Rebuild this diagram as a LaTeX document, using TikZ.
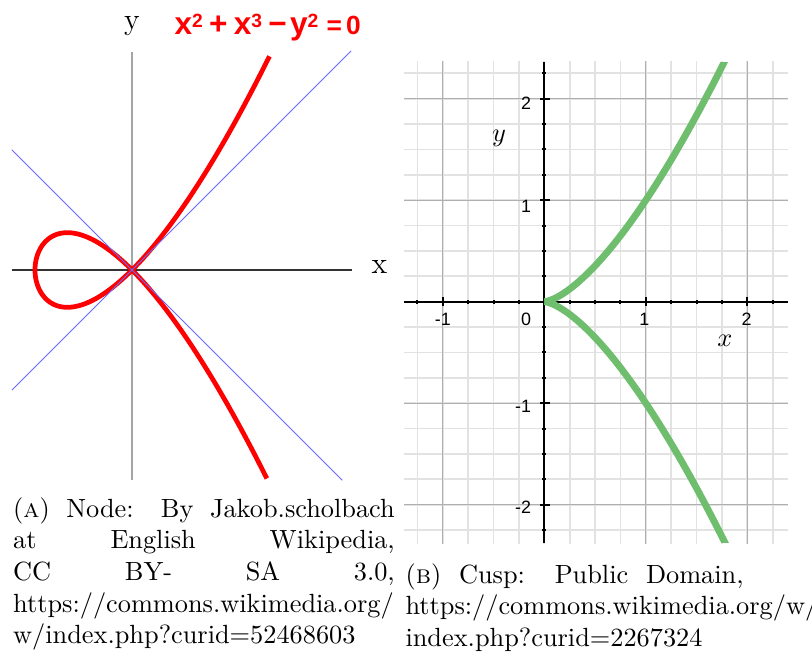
\documentclass[tikz,border=0pt]{standalone}
\usepackage{fontspec}
\newfontfamily\plotfont{Liberation Sans}
\definecolor{curvered}{RGB}{255,0,0}
\definecolor{tangentblue}{RGB}{105,105,255}
\definecolor{cuspgreen}{RGB}{110,190,110}
\definecolor{minorgray}{RGB}{226,226,226}
\definecolor{majorgray}{RGB}{175,175,175}
\definecolor{yaxisgray}{RGB}{165,165,165}
\newcommand{\eqsup}[1]{\raisebox{2.9pt}{\fontsize{7.3}{7}\selectfont #1}}
\begin{document}
\begin{tikzpicture}[x=0.38pt,y=-0.38pt,
    labelfont/.style={inner sep=0pt,font=\fontsize{11.5}{13}\selectfont},
    ticklabel/.style={inner sep=0pt,font=\plotfont\fontsize{6.8}{7}\selectfont},
    axisname/.style={inner sep=0pt,font=\fontsize{10.3}{12}\selectfont},
    captiontext/.style={inner sep=0pt,anchor=base west,align=justify,
      font=\fontsize{10}{12}\selectfont,
      execute at begin node={\tolerance=10000\hbadness=10000}}]
  \useasboundingbox (0,0) rectangle (812,654);
  \fill[white] (0,0) rectangle (812,654);
  \clip (0,0) rectangle (812,654);

  \begin{scope}[shift={(132,270)},xscale=97,yscale=-97]
    \coordinate (NL) at (-1.237,0);
    \coordinate (NR) at (2.275,0);
    \coordinate (NT) at (0,2.247);
    \coordinate (NB) at (0,-2.165);
    \coordinate (TA) at (-1.24,-1.24);
    \coordinate (TB) at (2.26,2.26);
    \coordinate (TC) at (-1.24,1.24);
    \coordinate (TD) at (2.17,-2.17);
    \draw[yaxisgray,line width=0.8pt] (NB) -- (NT);
    \draw[black!80,line width=0.4pt] (NL) -- (NR);
    \draw[curvered,line width=1.8pt,line join=round] plot[domain=-1.546:1.556,samples=160,smooth] ({\x*\x-1},{\x*(\x*\x-1)});
    \draw[tangentblue,line width=0.35pt] (TA) -- (TB);
    \draw[tangentblue,line width=0.35pt] (TC) -- (TD);
  \end{scope}
  \node[labelfont,anchor=base] (ylabel) at (132,29.5) {y};
  \node[labelfont,anchor=base] (xlabel) at (379.5,274) {x};
  \node[inner sep=0pt,anchor=base west,text=curvered,font=\plotfont\bfseries\fontsize{12}{14}\selectfont] (equation) at (174,35)
    {x\eqsup{2}\hspace{2.4pt}+\hspace{2.4pt}x\eqsup{3}\hspace{2.4pt}−\hspace{1.2pt}y\eqsup{2}\hspace{3.2pt}{\fontsize{10}{10}\selectfont=\hspace{1.6pt}0}};

  \begin{scope}[shift={(544.3,301.7)},xscale=101.5,yscale=-101.5]
    \coordinate (GL) at (-1.382,-2.387);
    \coordinate (GR) at (2.401,2.371);
    \coordinate (AL) at (-1.382,0);
    \coordinate (AR) at (2.401,0);
    \coordinate (AT) at (0,2.371);
    \coordinate (AB) at (0,-2.387);
    \foreach \g in {-1.25,-1,...,2.26}
      \draw[minorgray,line width=0.65pt] (\g,-2.387) -- (\g,2.371);
    \foreach \g in {-2.25,-2,...,2.26}
      \draw[minorgray,line width=0.65pt] (-1.382,\g) -- (2.401,\g);
    \foreach \g in {-1,1,2}
      \draw[majorgray,line width=0.45pt] (\g,-2.387) -- (\g,2.371);
    \foreach \g in {-2,-1,1,2}
      \draw[majorgray,line width=0.45pt] (-1.382,\g) -- (2.401,\g);
    \draw[line width=0.75pt] (AL) -- (AR);
    \draw[line width=0.75pt] (AB) -- (AT);
    \foreach \t in {-1.25,-1,...,2.26}
      \draw[line width=0.75pt] (\t,-0.02) -- (\t,0.02);
    \foreach \t in {-2.25,-2,...,2.26}
      \draw[line width=0.75pt] (-0.02,\t) -- (0.02,\t);
    \foreach \t in {-1,1,2}
      \draw[line width=0.75pt] (\t,-0.042) -- (\t,0.042);
    \foreach \t in {-2,-1,1,2}
      \draw[line width=0.75pt] (-0.042,\t) -- (0.055,\t);
    \begin{scope}
      \clip (GL) rectangle (GR);
      \draw[cuspgreen,line width=2.6pt] plot[domain=0:1.35,samples=60,smooth] ({\x*\x},{\x*\x*\x});
      \draw[cuspgreen,line width=2.6pt] plot[domain=0:1.35,samples=60,smooth] ({\x*\x},{-\x*\x*\x});
    \end{scope}
    \node[ticklabel] (xm1) at (-1,-0.173) {-1};
    \node[ticklabel] (x0) at (-0.18,-0.173) {0};
    \node[ticklabel] (x1) at (0.985,-0.173) {1};
    \node[ticklabel] (x2) at (1.994,-0.173) {2};
    \node[ticklabel,anchor=east] (y2) at (-0.125,1.955) {2};
    \node[ticklabel,anchor=east] (y1) at (-0.125,0.943) {1};
    \node[ticklabel,anchor=east] (ym1) at (-0.125,-1.034) {-1};
    \node[ticklabel,anchor=east] (ym2) at (-0.125,-2.03) {-2};
  \end{scope}
  \node[axisname] (cuspx) at (725,341) {$x$};
  \node[axisname] (cuspy) at (499,138) {$y$};

  \node[captiontext,text width=145pt] (captionA) at (12.7,517.3)
    {(\textsc{a}) Node: By Jakob.scholbach\linebreak at English Wikipedia,\linebreak CC BY- SA 3.0,\linebreak https://commons.wikimedia.org/\linebreak w/index.php?curid=52468603};
  \node[captiontext,text width=128.5pt] (captionB) at (405,583.3)
    {(\textsc{b}) Cusp: Public Domain,\linebreak https://commons.wikimedia.org/w/\linebreak index.php?curid=2267324};
\end{tikzpicture}
\end{document}
